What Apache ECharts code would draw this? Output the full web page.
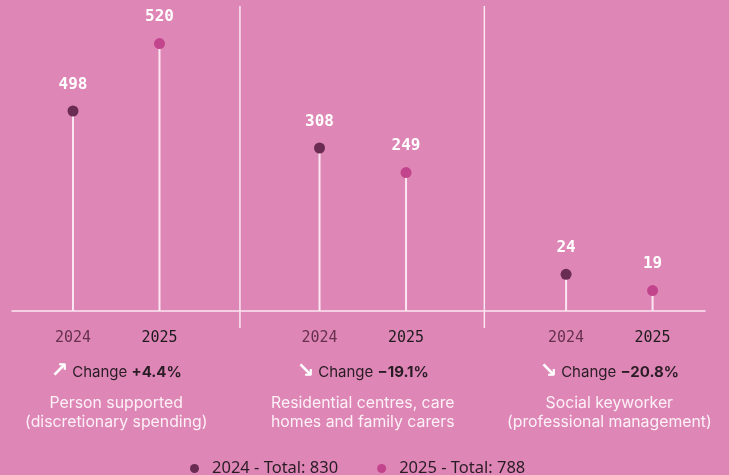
<!DOCTYPE html>
<html>
<head>
<meta charset="utf-8">
<script src="https://cdn.jsdelivr.net/npm/echarts@6/dist/echarts.min.js"></script>
<style>
html,body{margin:0;padding:0;background:#de87b6;}
#chart{width:729px;height:475px;}
</style>
</head>
<body>
<div id="chart"></div>
<script>
// ---- data ----
const years = ['2024', '2025'];
const totals = [830, 788];
const groups = [
  'Person supported\n(discretionary spending)',
  'Residential centres, care\nhomes and family carers',
  'Social keyworker\n(professional management)'
];
const values2024 = [498, 308, 24];
const values2025 = [520, 249, 19];
// stem heights as drawn in the picture (relative display level, 0-300)
const level2024 = [200, 163, 36.7];
const level2025 = [267.4, 138.4, 20.4];
const changeLabels = ['+4.4%', '\u221219.1%', '\u221220.8%'];
const changeUp = [true, false, false];

// ---- layout constants ----
const GROUP_STEP = 2.85;   // group spacing in x units
const X_MIN = -0.705, X_MAX = 7.306;
const BG = '#de87b6';
const WHITE = '#fbe6f1';
const C2024 = '#6a2c52';
const C2025 = '#c2448c';

const xOf = (g, j) => g * GROUP_STEP + j;
const yearPositions = [];
groups.forEach((_, g) => { yearPositions.push(xOf(g, 0), xOf(g, 1)); });
const groupCenters = groups.map((_, g) => xOf(g, 0.5));
const separators = [1.93, 4.755];

const dots2024 = values2024.map((v, g) => ({ value: [xOf(g, 0), level2024[g]], label: { formatter: String(v) } }));
const dots2025 = values2025.map((v, g) => ({ value: [xOf(g, 1), level2025[g]], label: { formatter: String(v) } }));
const stems = [];
groups.forEach((_, g) => { stems.push([xOf(g, 0), level2024[g]], [xOf(g, 1), level2025[g]]); });

function near(a, b) { return Math.abs(a - b) < 1e-6; }

const chart = echarts.init(document.getElementById('chart'), null, { renderer: 'canvas' });

const valueLabel = {
  show: true, position: 'top', distance: 13,
  color: '#ffffff', fontFamily: 'DejaVu Sans Mono', fontWeight: 'bold', fontSize: 16
};

chart.setOption({
  backgroundColor: BG,
  animation: false,
  grid: { left: 12, right: 24, top: 11, bottom: 164, containLabel: false, outerBoundsMode: 'none' },
  xAxis: [{
    type: 'value', position: 'bottom', min: X_MIN, max: X_MAX,
    splitLine: { show: false },
    axisTick: { show: false },
    axisLine: { show: true, onZero: false, lineStyle: { color: WHITE, width: 1.5 } },
    axisLabel: {
      show: true, customValues: yearPositions, margin: 20,
      formatter: function (v) {
        const idx = yearPositions.findIndex(p => near(p, v));
        if (idx < 0) return '';
        return idx % 2 === 0 ? '{a|' + years[0] + '}' : '{b|' + years[1] + '}';
      },
      rich: {
        a: { fontFamily: 'DejaVu Sans Mono', fontSize: 15, color: '#67304f' },
        b: { fontFamily: 'DejaVu Sans Mono', fontSize: 15, color: '#1e1a1d' }
      }
    }
  }, {
    type: 'value', position: 'bottom', offset: 0, min: X_MIN, max: X_MAX,
    splitLine: { show: false },
    axisTick: { show: false },
    axisLine: { show: false },
    axisLabel: {
      show: true, customValues: groupCenters, margin: 51,
      formatter: function (v) {
        const g = groupCenters.findIndex(p => near(p, v));
        if (g < 0) return '';
        const lines = groups[g].split('\n');
        return '{arr|' + (changeUp[g] ? '\u2197' : '\u2198') + '}{sp2| }{chg|Change }{pct|' + changeLabels[g] + '}\n{gap| }\n' +
          lines.map(l => '{desc|' + l + '}').join('\n');
      },
      rich: {
        arr: { fontFamily: 'DejaVu Sans', fontWeight: 'bold', fontSize: 21, color: '#ffffff', lineHeight: 20, align: 'center', verticalAlign: 'bottom' },
        sp2: { fontSize: 14, lineHeight: 20, align: 'center' },
        chg: { fontFamily: 'Inter', fontSize: 15, color: '#2a1c25', lineHeight: 20, align: 'center' },
        pct: { fontFamily: 'Inter', fontWeight: 'bold', fontSize: 15, color: '#2a1c25', lineHeight: 20, align: 'center' },
        gap: { fontSize: 8, lineHeight: 12, align: 'center' },
        desc: { fontFamily: 'Inter', fontSize: 15.8, color: '#fdf0f6', lineHeight: 19, align: 'center' }
      }
    }
  }],
  yAxis: { type: 'value', min: 0, max: 300, show: false },
  legend: {
    data: [years[0] + ' - Total: ' + totals[0], years[1] + ' - Total: ' + totals[1]],
    left: 185, top: 455, icon: 'circle', itemWidth: 9, itemHeight: 9, itemGap: 39,
    textStyle: { fontFamily: 'Noto Sans', fontSize: 16.5, color: '#2a1c25', padding: [0, 0, 0, 8] }
  },
  series: [
    {
      type: 'custom', name: 'separators', silent: true, clip: false,
      data: separators.map(s => [s]),
      renderItem: function (params, api) {
        const top = api.coord([api.value(0), 305]);
        const bot = api.coord([api.value(0), -17]);
        return { type: 'line', shape: { x1: top[0], y1: top[1], x2: bot[0], y2: bot[1] }, style: { stroke: WHITE, lineWidth: 1.5 } };
      },
      z: 1
    },
    {
      type: 'bar', name: 'stems', data: stems, barWidth: 2, silent: true,
      itemStyle: { color: WHITE }, z: 2
    },
    {
      type: 'scatter', name: years[0] + ' - Total: ' + totals[0], data: dots2024,
      symbolSize: 11, itemStyle: { color: C2024, opacity: 1 }, label: valueLabel, z: 3
    },
    {
      type: 'scatter', name: years[1] + ' - Total: ' + totals[1], data: dots2025,
      symbolSize: 11, itemStyle: { color: C2025, opacity: 1 }, label: valueLabel, z: 3
    }
  ]
});
</script>
</body>
</html>
